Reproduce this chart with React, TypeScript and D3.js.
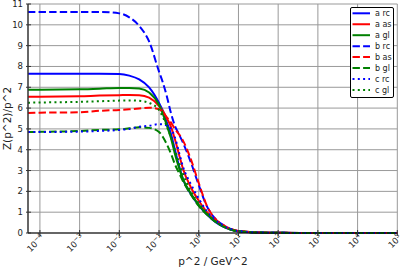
import React from "react";
import * as d3 from "d3";

// p^2 sample points (GeV^2)
const p2 = [5e-5, 1e-4, 1e-3, 3.16e-3, 1e-2, 0.0178, 0.0316, 0.0562, 0.1, 0.126, 0.158, 0.2, 0.251, 0.316, 0.398, 0.631, 1, 1.585, 2.512, 3.981, 6.31, 10, 31.6, 100, 1000, 10000, 100000];

const aRc = [7.65, 7.65, 7.65, 7.65, 7.64, 7.56, 7.38, 7.0, 6.25, 5.85, 5.3, 4.75, 4.0, 3.25, 2.6, 1.88, 1.33, 0.9, 0.56, 0.32, 0.16, 0.07, 0.024, 0.008, 0.001, 0.0001, 0];
const aAs = [6.55, 6.55, 6.57, 6.6, 6.62, 6.63, 6.62, 6.5, 6.1, 5.85, 5.5, 5.1, 4.5, 3.8, 3.1, 2.2, 1.55, 1.02, 0.63, 0.36, 0.18, 0.09, 0.028, 0.009, 0.001, 0.0001, 0];
const aGl = [6.88, 6.88, 6.9, 6.93, 6.97, 6.97, 6.94, 6.75, 6.15, 5.7, 5.15, 4.55, 3.8, 3.15, 2.6, 1.9, 1.35, 0.92, 0.58, 0.33, 0.17, 0.08, 0.025, 0.008, 0.001, 0.0001, 0];
const bRc = [10.62, 10.62, 10.62, 10.62, 10.55, 10.36, 9.95, 9.2, 7.75, 7.2, 6.55, 5.75, 5.15, 4.75, 4.35, 3.4, 2.3, 1.3, 0.72, 0.4, 0.2, 0.1, 0.03, 0.01, 0.001, 0.0001, 0];
const bAs = [5.77, 5.78, 5.8, 5.87, 5.91, 5.94, 5.98, 6.02, 5.95, 5.8, 5.55, 5.3, 5.0, 4.75, 4.45, 3.55, 2.4, 1.33, 0.72, 0.4, 0.2, 0.1, 0.03, 0.01, 0.001, 0.0001, 0];
const bGl = [4.85, 4.86, 4.9, 4.95, 4.98, 5.03, 5.08, 5.05, 4.85, 4.6, 4.25, 3.8, 3.3, 2.9, 2.5, 1.85, 1.3, 0.9, 0.57, 0.33, 0.17, 0.08, 0.025, 0.008, 0.001, 0.0001, 0];
const cRc = [4.85, 4.85, 4.87, 4.9, 4.95, 5.0, 5.1, 5.15, 5.23, 5.22, 5.15, 5.0, 4.6, 3.9, 3.2, 2.35, 1.65, 1.05, 0.65, 0.37, 0.19, 0.09, 0.028, 0.009, 0.001, 0.0001, 0];
const cGl = [6.26, 6.27, 6.3, 6.33, 6.36, 6.37, 6.35, 6.25, 5.9, 5.55, 5.1, 4.6, 4.0, 3.4, 2.85, 2.0, 1.42, 0.95, 0.6, 0.34, 0.17, 0.08, 0.025, 0.008, 0.001, 0.0001, 0];

const seriesNames = ["a rc", "a as", "a gl", "b rc", "b as", "b gl", "c rc", "c gl"];
const seriesValues = [aRc, aAs, aGl, bRc, bAs, bGl, cRc, cGl];
const seriesColors = ["#0000ff", "#ff0000", "#008000", "#0000ff", "#ff0000", "#008000", "#0000ff", "#008000"];
const seriesDash = ["", "", "", "7.4,3.2", "7.4,3.2", "7.4,3.2", "2,3.3", "2,3.3"];

const xTickExps = [-4, -3, -2, -1, 0, 1, 2, 3, 4, 5];
const yTicks = [0, 1, 2, 3, 4, 5, 6, 7, 8, 9, 10, 11];

const W = 407;
const H = 271;
const left = 28;
const right = 397.3;
const top = 4;
const bottom = 233;

export default function App() {
  const x = d3.scaleLog().domain([Math.pow(10, -4.3), 1e5]).range([left, right]);
  const y = d3.scaleLinear().domain([0, 11]).range([bottom, top]);
  const line = d3
    .line<number>()
    .x((_, i) => x(p2[i]))
    .y((d) => y(d))
    .curve(d3.curveMonotoneX);
  const font = "DejaVu Sans, sans-serif";

  return (
    <svg
      width={W}
      height={H}
      style={{ position: "absolute", left: 0, top: 0, background: "#fff" }}
      fontFamily={font}
    >
      <rect x={0} y={0} width={W} height={H} fill="#fff" />
      {/* grid */}
      {xTickExps.map((e) => (
        <line key={"gx" + e} x1={x(Math.pow(10, e))} x2={x(Math.pow(10, e))} y1={top} y2={bottom} stroke="#999" strokeWidth={1} />
      ))}
      {yTicks.map((t) => (
        <line key={"gy" + t} x1={left} x2={right} y1={y(t)} y2={y(t)} stroke="#999" strokeWidth={1} />
      ))}
      {/* series */}
      {seriesValues.map((vals, i) => (
        <path
          key={"s" + i}
          d={line(vals) || ""}
          fill="none"
          stroke={seriesColors[i]}
          strokeWidth={2}
          strokeDasharray={seriesDash[i] || undefined}
        />
      ))}
      {/* axes */}
      <line x1={left} x2={left} y1={top} y2={bottom} stroke="#333" strokeWidth={1.5} />
      <line x1={left} x2={right} y1={bottom} y2={bottom} stroke="#000" strokeWidth={1.2} />
      {yTicks.map((t) => (
        <g key={"yt" + t}>
          <line x1={left - 2} x2={left + 3} y1={y(t)} y2={y(t)} stroke="#333" strokeWidth={1} />
          <text x={left - 5} y={y(t) + 3} fontSize={8.5} textAnchor="end" fill="#222">
            {t}
          </text>
        </g>
      ))}
      {xTickExps.map((e) => {
        const px = x(Math.pow(10, e));
        const s = String(e).replace("-", "\u2212");
        return (
          <g key={"xt" + e}>
            <line x1={px} x2={px} y1={bottom - 3} y2={bottom + 3} stroke="#333" strokeWidth={1} />
            <text transform={`translate(${px + 5},${bottom + 5}) rotate(-45)`} fontSize={8.5} textAnchor="end" fill="#222">
              10
              <tspan dy={-3.5} fontSize={6.5}>
                {s}
              </tspan>
            </text>
          </g>
        );
      })}
      {/* axis labels */}
      <text x={213} y={265} fontSize={10.5} textAnchor="middle" fill="#222">
        p^2 / GeV^2
      </text>
      <text transform={`translate(11,${(top + bottom) / 2}) rotate(-90)`} fontSize={10.5} textAnchor="middle" fill="#222">
        Z(p^2)/p^2
      </text>
      {/* legend */}
      <rect x={350.5} y={7.5} width={43} height={90} fill="#fff" stroke="#000" strokeWidth={1} rx={1.5} />
      {seriesNames.map((n, i) => {
        const ly = 13.3 + i * 10.95;
        return (
          <g key={"lg" + i}>
            <line x1={352.5} x2={370} y1={ly} y2={ly} stroke={seriesColors[i]} strokeWidth={2} strokeDasharray={seriesDash[i] || undefined} />
            <text x={375} y={ly + 3} fontSize={8} fill="#222">
              {n}
            </text>
          </g>
        );
      })}
    </svg>
  );
}
